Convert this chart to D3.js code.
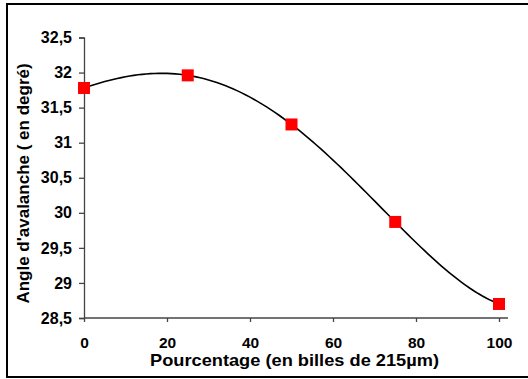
<!DOCTYPE html>
<html>
<head>
<meta charset="utf-8">
<script src="https://cdn.jsdelivr.net/npm/d3@7"></script>
<style>
  body { margin: 0; background: #fff; overflow: hidden; }
  svg { display: block; }
  text { font-family: "Liberation Sans", Arial, sans-serif; font-weight: bold; fill: #000; }
</style>
</head>
<body>
<svg id="chart"></svg>
<script>
// data
let pourcentage = [0, 25, 50, 75, 100];
let angle = [31.78, 31.96, 31.26, 29.87, 28.70];
let xTicks = [0, 20, 40, 60, 80, 100];
let yTicks = [28.5, 29, 29.5, 30, 30.5, 31, 31.5, 32, 32.5];

let width = 528;
let height = 379;
let margin = {left: 84, right: 29, top: 37.5, bottom: 61};

let svg = d3.select("#chart")
    .attr("width", width)
    .attr("height", height);

// outer frame, its right side is cut off in the picture
svg.append("rect")
    .attr("x", 7).attr("y", 4)
    .attr("width", 600).attr("height", 373)
    .attr("fill", "none")
    .attr("stroke", "#000")
    .attr("stroke-width", 2);

let x = d3.scaleLinear().domain([0, 100]).range([margin.left, width - margin.right]);
let y = d3.scaleLinear().domain([28.5, 32.5]).range([height - margin.bottom, margin.top]);

let fmt = d => String(d).replace(".", ",");

// y axis
let yAxis = svg.append("g")
    .attr("transform", "translate(" + margin.left + ",0)")
    .call(d3.axisLeft(y).tickValues(yTicks).tickFormat(fmt).tickSize(5).tickPadding(7));

// x axis, line goes a bit past 100
let xAxis = svg.append("g")
    .attr("transform", "translate(0," + y(28.5) + ")")
    .call(d3.axisBottom(x).tickValues(xTicks).tickSizeInner(4).tickSizeOuter(0).tickPadding(15));
xAxis.select(".domain").attr("d", "M" + x(0) + ",0H" + (x(100) + 9));

svg.selectAll(".domain, .tick line").attr("stroke", "#444").attr("stroke-width", 1.3);
svg.selectAll(".tick text")
    .style("font-family", "Liberation Sans, Arial, sans-serif")
    .style("font-weight", "bold")
    .attr("fill", "#000");
yAxis.selectAll(".tick text").style("font-size", "16px");
xAxis.selectAll(".tick text").style("font-size", "15.5px");

// polynomial trend line through the points (least squares)
function polyFit(xs, ys, deg) {
    let n = deg + 1;
    let A = [];
    for (let i = 0; i < n; i++) {
        A.push([]);
        for (let j = 0; j <= n; j++) A[i].push(0);
    }
    let xn = xs.map(v => v / 100); // scaled to keep the system well conditioned
    xn.forEach((xv, k) => {
        for (let i = 0; i < n; i++) {
            for (let j = 0; j < n; j++) A[i][j] += Math.pow(xv, i + j);
            A[i][n] += ys[k] * Math.pow(xv, i);
        }
    });
    for (let i = 0; i < n; i++) {
        let p = A[i][i];
        for (let j = i; j <= n; j++) A[i][j] /= p;
        for (let r = 0; r < n; r++) {
            if (r === i) continue;
            let f = A[r][i];
            for (let j = i; j <= n; j++) A[r][j] -= f * A[i][j];
        }
    }
    return A.map(row => row[n]);
}
let coef = polyFit(pourcentage, angle, 4);
let trend = d3.range(0, 100.5, 1).map(t => [t, coef.reduce((s, c, i) => s + c * Math.pow(t / 100, i), 0)]);

svg.append("path")
    .datum(trend)
    .attr("fill", "none")
    .attr("stroke", "#000")
    .attr("stroke-width", 1.6)
    .attr("d", d3.line().x(d => x(d[0])).y(d => y(d[1])));

// markers
let s = 12;
svg.selectAll(".pt")
    .data(pourcentage)
    .enter().append("rect")
    .attr("class", "pt")
    .attr("x", d => x(d) - s / 2)
    .attr("y", (d, i) => y(angle[i]) - s / 2)
    .attr("width", s).attr("height", s)
    .attr("fill", "#ff0000");

// axis titles
svg.append("text")
    .attr("x", 294.5)
    .attr("y", 366)
    .attr("text-anchor", "middle")
    .attr("textLength", 289)
    .attr("lengthAdjust", "spacingAndGlyphs")
    .style("font-size", "16.5px")
    .text("Pourcentage (en billes de 215µm)");

svg.append("text")
    .attr("transform", "translate(28.5," + 183.5 + ") rotate(-90)")
    .attr("text-anchor", "middle")
    .style("font-size", "17px")
    .text("Angle d'avalanche ( en degré)");
</script>
</body>
</html>
